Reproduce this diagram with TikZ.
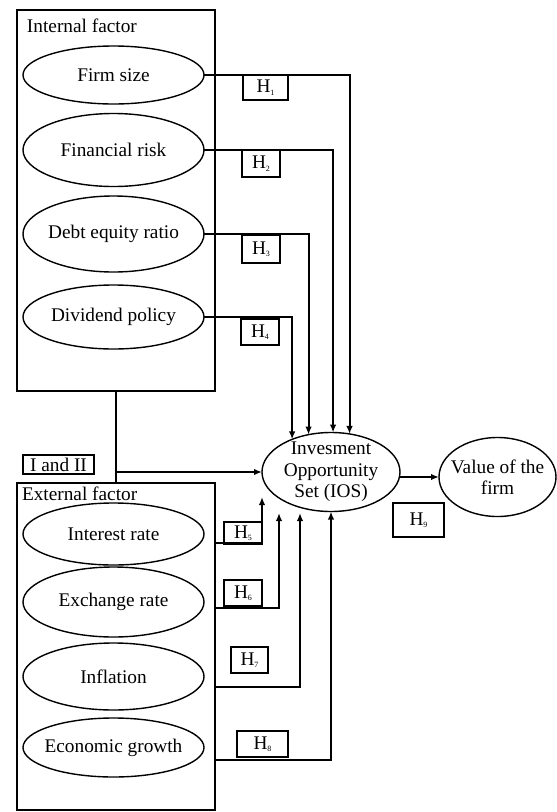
\documentclass[tikz,border=0pt]{standalone}
\usepackage{fontspec}
\setmainfont{Liberation Serif}
\usetikzlibrary{shapes.geometric,arrows.meta}
\newcommand\hsub[1]{\raisebox{-2.5pt}{\fontsize{8}{8}\selectfont #1}}
\begin{document}
\begin{tikzpicture}[x=1pt,y=-1pt,
  every node/.style={font=\fontsize{19.3}{21.5}\selectfont, inner sep=0pt, outer sep=0pt},
  oval/.style={ellipse, draw, line width=1.4pt, align=center},
  factor/.style={oval, inner xsep=-12pt, minimum width=181pt},
  grp/.style={rectangle, draw, line width=2pt, minimum width=198pt},
  hbox/.style={rectangle, draw, line width=2pt, minimum width=38pt, minimum height=26pt},
  conn/.style={line width=2pt},
  arr/.style={conn, -{Latex[length=8pt,width=6.5pt]}}]
\useasboundingbox (0,0) rectangle (557,812);

% group boxes
\node[grp, minimum height=381pt] (int) at (116,200) {};
\node[grp, minimum height=327pt] (ext) at (116,646.5) {};
\node[anchor=base west] (intlab) at (27,32) {Internal factor};
\node[anchor=base west] (extlab) at (22,500) {External factor};

% internal factors
\node[factor, minimum height=58pt] (fs) at (113.5,75) {Firm size};
\node[factor, minimum height=73pt] (fr) at (113.5,150) {Financial risk};
\node[factor, minimum height=76pt] (der) at (113.5,234) {Debt equity ratio};
\node[factor, minimum height=64pt] (dp) at (113.5,317) {Dividend policy};

% external factors
\node[factor, minimum height=62pt] (ir) at (113.5,534) {Interest rate};
\node[factor, minimum height=70pt] (er) at (113.5,602) {Exchange rate};
\node[factor, minimum height=67pt] (inf) at (113.5,676.5) {Inflation};
\node[factor, minimum height=59pt] (eg) at (113.5,747.5) {Economic growth};

% outcome nodes
\node[oval, inner xsep=-6pt, inner ysep=-10pt, minimum width=138pt, minimum height=79pt] (ios) at (331,472) {Invesment\\Opportunity\\Set (IOS)};
\node[oval, inner xsep=-12pt, inner ysep=-4pt, minimum width=117pt, minimum height=79pt] (vf) at (497.5,477) {Value of the\\firm};

% hypothesis labels
\node[hbox, minimum width=45pt, minimum height=25pt] (h1) at (265.5,87.5) {H\hsub{1}};
\node[hbox, minimum height=27pt] (h2) at (261,163.5) {H\hsub{2}};
\node[hbox, minimum height=28pt] (h3) at (261,249) {H\hsub{3}};
\node[hbox] (h4) at (260,332) {H\hsub{4}};
\node[hbox, minimum height=22pt] (h5) at (243,533) {H\hsub{5}};
\node[hbox] (h6) at (243,593) {H\hsub{6}};
\node[hbox, minimum width=37pt] (h7) at (249.5,660) {H\hsub{7}};
\node[hbox, minimum width=51pt] (h8) at (262.5,744) {H\hsub{8}};
\node[hbox, minimum width=51pt, minimum height=34pt] (h9) at (418.5,520) {H\hsub{9}};
\node[hbox, minimum width=71pt, minimum height=19pt] (i12) at (58.5,464.5) {I and II};

% arrow tips that stop short of the IOS ellipse
\coordinate (t5) at (262,497);
\coordinate (t6) at (279,513);
\coordinate (t7) at (300,513);

% internal connectors
\draw[arr] (fs.east) -| (ios.64.7);
\draw[arr] (fr.east) -| (ios.87.1);
\draw[arr] (der.east) -| (ios.121.7);
\draw[arr] (dp.east) -| (ios.140.1);

% combined effect
\draw[conn] (int.south) -- (ext.north);
\draw[arr] (int.south |- ios.west) -- (ios.west);

% external connectors
\draw[arr] ([yshift=-9pt]ir.east -| ext.east) -| (t5);
\draw[arr] ([yshift=-6pt]er.east -| ext.east) -| (t6);
\draw[arr] ([yshift=-10.5pt]inf.east -| ext.east) -| (t7);
\draw[arr] ([yshift=-12.5pt]eg.east -| ext.east) -| (ios.south);

% IOS to value
\draw[arr] (ios.east |- vf.west) -- (vf.west);
\end{tikzpicture}
\end{document}
